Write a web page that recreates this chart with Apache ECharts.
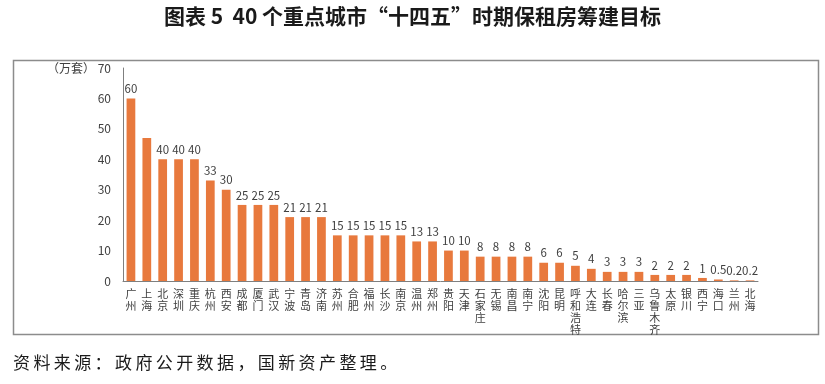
<!DOCTYPE html>
<html><head><meta charset="utf-8">
<script src="https://cdn.jsdelivr.net/npm/echarts@6/dist/echarts.min.js"></script>
<style>html,body{margin:0;padding:0;background:#fff}#c{width:825px;height:384px}</style>
</head><body><div id="c"></div>
<script>
const cities = ['广州','上海','北京','深圳','重庆','杭州','西安','成都','厦门','武汉','宁波','青岛','济南','苏州','合肥','福州','长沙','南京','温州','郑州','贵阳','天津','石家庄','无锡','南昌','南宁','沈阳','昆明','呼和浩特','大连','长春','哈尔滨','三亚','乌鲁木齐','太原','银川','西宁','海口','兰州','北海'];
const targets = [60,47,40,40,40,33,30,25,25,25,21,21,21,15,15,15,15,15,13,13,10,10,8,8,8,8,6,6,5,4,3,3,3,2,2,2,1,0.5,0.2,0.2];
const unlabeled = ['上海'];
const yTicks = [0,10,20,30,40,50,60,70];
const titleText = '图表 5  40 个重点城市“十四五”时期保租房筹建目标';
const sourceText = '资料来源：政府公开数据，国新资产整理。';
const unitText = '（万套） ';

const FONT = '"Noto Sans CJK SC", "Noto Sans", sans-serif';
const spaced = s => s.split('').join('\u2009');
const chart = echarts.init(document.getElementById('c'), null, {renderer:'canvas'});
chart.setOption({
  animation:false,
  textStyle:{fontFamily:FONT},
  title:{text:titleText,left:'center',top:1,textStyle:{fontFamily:FONT,fontSize:21,fontWeight:'bold',color:'#1a1a1a'}},
  grid:{left:123,right:67,top:68,bottom:103,containLabel:false},
  xAxis:{type:'category',data:cities,
    axisLine:{lineStyle:{color:'#7f7f7f',width:1}},axisTick:{show:false},
    axisLabel:{interval:0,fontSize:11,color:'#404040',lineHeight:12,margin:7,fontFamily:FONT,
      formatter:v=>v.split('').join('\n')}},
  yAxis:{type:'value',min:yTicks[0],max:yTicks[yTicks.length-1],interval:10,
    splitLine:{show:false},axisTick:{show:false},
    axisLine:{show:true,lineStyle:{color:'#7f7f7f',width:1}},
    axisLabel:{fontSize:12,color:'#404040',margin:12,fontFamily:FONT,
      formatter:v=>v===yTicks[yTicks.length-1]?unitText+v:String(v)}},
  series:[{type:'bar',data:targets,barWidth:'55%',
    itemStyle:{color:'#E8793D'},
    label:{show:true,position:'top',distance:4,fontSize:11.5,color:'#404040',fontFamily:FONT,
      formatter:p=>unlabeled.includes(cities[p.dataIndex])?'':String(p.value)}}],
  graphic:[
    {type:'rect',left:11,top:58,shape:{width:805,height:274},style:{fill:'none',stroke:'#8c8c8c',lineWidth:1.5},silent:true},
    {type:'text',left:13,top:354,style:{text:spaced(sourceText),fontSize:17,fill:'#1a1a1a',fontFamily:FONT}}
  ]
});
</script></body></html>
